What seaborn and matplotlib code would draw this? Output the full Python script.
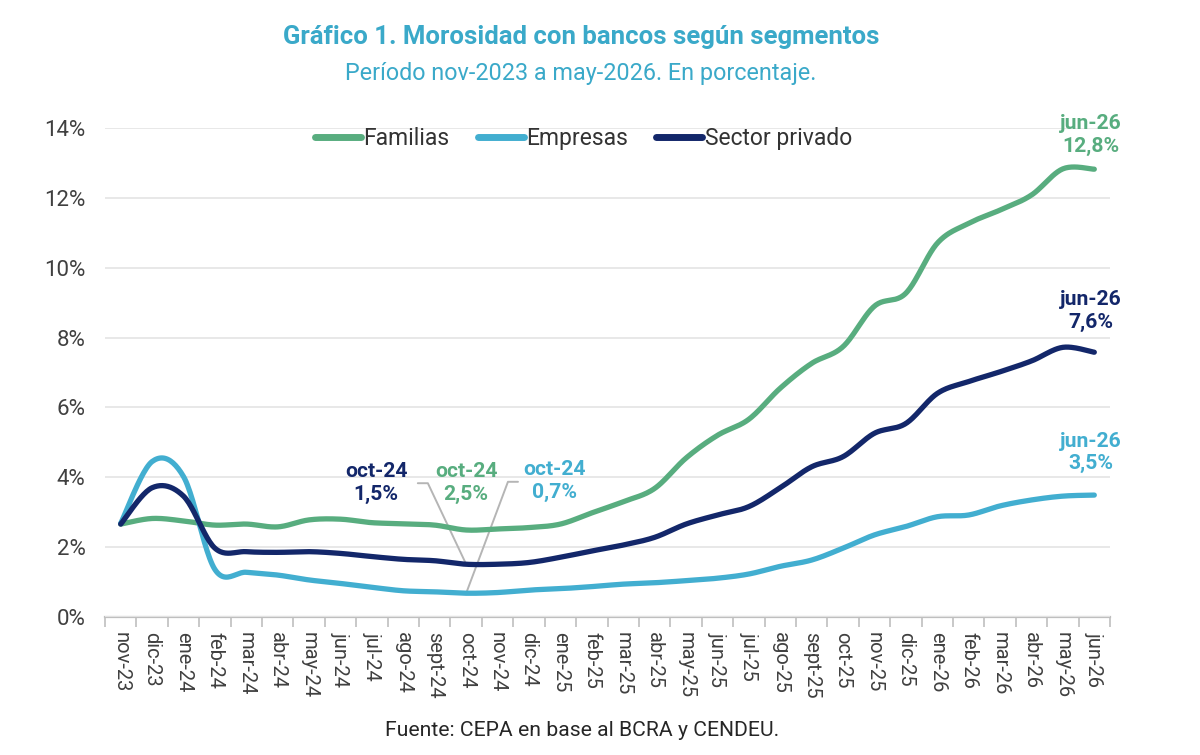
import numpy as np
import pandas as pd
import matplotlib
matplotlib.use("Agg")
import matplotlib.pyplot as plt
import seaborn as sns
from matplotlib.lines import Line2D
from matplotlib.ticker import FixedLocator, PercentFormatter

# ---------------- data ----------------
months = ["nov-23", "dic-23", "ene-24", "feb-24", "mar-24", "abr-24", "may-24", "jun-24",
          "jul-24", "ago-24", "sept-24", "oct-24", "nov-24", "dic-24", "ene-25", "feb-25",
          "mar-25", "abr-25", "may-25", "jun-25", "jul-25", "ago-25", "sept-25", "oct-25",
          "nov-25", "dic-25", "ene-26", "feb-26", "mar-26", "abr-26", "may-26", "jun-26"]

familias = [2.66, 2.82, 2.75, 2.63, 2.66, 2.58, 2.78, 2.80, 2.70, 2.67, 2.63, 2.49,
            2.52, 2.56, 2.66, 2.98, 3.30, 3.68, 4.55, 5.20, 5.66, 6.55, 7.26, 7.74,
            8.90, 9.27, 10.70, 11.27, 11.65, 12.08, 12.83, 12.82]

empresas = [2.68, 4.45, 4.02, 1.36, 1.28, 1.20, 1.06, 0.96, 0.85, 0.75, 0.72, 0.68,
            0.70, 0.77, 0.81, 0.87, 0.94, 0.98, 1.04, 1.11, 1.23, 1.45, 1.63, 1.97,
            2.35, 2.59, 2.87, 2.92, 3.18, 3.35, 3.46, 3.49]

privado = [2.66, 3.70, 3.46, 1.97, 1.87, 1.85, 1.87, 1.82, 1.73, 1.65, 1.61, 1.51,
           1.51, 1.56, 1.71, 1.89, 2.06, 2.28, 2.66, 2.92, 3.16, 3.70, 4.30, 4.59,
           5.26, 5.54, 6.40, 6.74, 7.02, 7.33, 7.72, 7.58]

series_names = ["Familias", "Empresas", "Sector privado"]
yticks = [0, 2, 4, 6, 8, 10, 12, 14]

title = "Gráfico 1. Morosidad con bancos según segmentos"
subtitle = "Período nov-2023 a may-2026. En porcentaje."
source = "Fuente: CEPA en base al BCRA y CENDEU."

# ---------------- style ----------------
C_FAM = "#58ad7f"
C_EMP = "#42aed0"
C_PRI = "#13276a"
C_TITLE = "#3aa9c9"
palette = {"Familias": C_FAM, "Empresas": C_EMP, "Sector privado": C_PRI}

sns.set_theme(style="white")
plt.rcParams["font.family"] = ["Roboto", "DejaVu Sans"]


def smooth(vals, n=24):
    """Excel-like smoothed line (Catmull-Rom as cubic Bezier) through the data."""
    y = np.asarray(vals, float)
    x = np.arange(len(y), dtype=float)
    P = np.column_stack([x, y])
    out = []
    t = np.linspace(0, 1, n, endpoint=False)[:, None]
    for i in range(len(P) - 1):
        p0 = P[max(i - 1, 0)]
        p1 = P[i]
        p2 = P[i + 1]
        p3 = P[min(i + 2, len(P) - 1)]
        c1 = p1 + (p2 - p0) / 6.0
        c2 = p2 - (p3 - p1) / 6.0
        b = (1 - t) ** 3 * p1 + 3 * (1 - t) ** 2 * t * c1 + 3 * (1 - t) * t ** 2 * c2 + t ** 3 * p2
        out.append(b)
    out.append(P[-1:])
    return np.vstack(out)


frames = []
for name, vals in zip(series_names, [familias, empresas, privado]):
    s = smooth(vals)
    frames.append(pd.DataFrame({"x": s[:, 0], "y": s[:, 1], "serie": name}))
df = pd.concat(frames, ignore_index=True)

fig = plt.figure(figsize=(12, 7.55), dpi=100)
ax = fig.add_axes([0.0875, 0.1828, 0.8375, 0.6477])

sns.lineplot(data=df, x="x", y="y", hue="serie", palette=palette, sort=False,
             estimator=None, linewidth=3.8, legend=False, ax=ax,
             hue_order=["Familias", "Empresas", "Sector privado"])
for ln in ax.lines:
    ln.set_solid_capstyle("round")
    ln.set_solid_joinstyle("round")
ax.lines[2].set_zorder(3)

n = len(months)
ax.set_xlim(-0.5, n - 0.5)
ax.set_ylim(0, 14)
ax.set_xlabel("")
ax.set_ylabel("")

ax.set_xticks(range(n))
ax.set_xticklabels(months, rotation=270, fontsize=14.5, color="#404040")
ax.xaxis.set_minor_locator(FixedLocator(np.arange(-0.5, n, 1.0)))
ax.tick_params(axis="x", which="major", length=0, pad=11)
ax.tick_params(axis="x", which="minor", length=7, width=1.2, color="#bfbfbf",
               direction="out", bottom=True)

ax.set_yticks(yticks)
ax.yaxis.set_major_formatter(PercentFormatter(decimals=0))
ax.tick_params(axis="y", length=0, pad=14, labelsize=16, labelcolor="#404040")

ax.grid(axis="y", color="#e6e6e6", linewidth=1.3)
ax.set_axisbelow(True)
for sp in ["top", "right", "left"]:
    ax.spines[sp].set_visible(False)
ax.spines["bottom"].set_color("#bfbfbf")
ax.spines["bottom"].set_linewidth(1.6)
ax.spines["bottom"].set_zorder(0.5)

# legend
handles = [Line2D([0], [0], color=palette[nm], lw=5, solid_capstyle="round") for nm in series_names]
leg = ax.legend(handles, series_names, loc="center", bbox_to_anchor=(0.476, 0.978), ncol=3,
                frameon=False, fontsize=16.5, handlelength=2.0, handletextpad=0.1,
                columnspacing=1.25)
for txt in leg.get_texts():
    txt.set_color("#333333")

# annotations oct-24
i_oct = months.index("oct-24")
lab_kw = dict(ha="center", va="center", fontsize=15.2, fontweight="bold", linespacing=1.25)
ax.text(8.13, 3.84, f"oct-24\n{privado[i_oct]:.1f}%".replace(".", ","), color=C_PRI, **lab_kw)
ax.text(11.0, 3.84, f"oct-24\n{familias[i_oct]:.1f}%".replace(".", ","), color=C_FAM, **lab_kw)
ax.text(13.8, 3.89, "oct-24\n0,7%", color=C_EMP, **lab_kw)
ax.plot([9.46, 9.78, i_oct], [3.83, 3.83, privado[i_oct]], color="#b5b5b5", lw=1.4, zorder=1.5)
ax.plot([12.65, 12.33, i_oct], [3.87, 3.87, empresas[i_oct]], color="#b5b5b5", lw=1.4, zorder=1.5)

# annotations jun-26
i_jun = n - 1
ax.text(30.9, 13.8, f"jun-26\n{familias[i_jun]:.1f}%".replace(".", ","), color=C_FAM,
        clip_on=False, **lab_kw)
ax.text(30.9, 8.77, f"jun-26\n{privado[i_jun]:.1f}%".replace(".", ","), color=C_PRI,
        clip_on=False, **lab_kw)
ax.text(30.9, 4.71, f"jun-26\n{empresas[i_jun]:.1f}%".replace(".", ","), color=C_EMP,
        clip_on=False, **lab_kw)

# titles and source
fig.text(0.484, 0.951, title, ha="center", va="center", fontsize=18.5, fontweight="bold",
         color=C_TITLE)
fig.text(0.484, 0.903, subtitle, ha="center", va="center", fontsize=16.8, color=C_TITLE)
fig.text(0.485, 0.033, source, ha="center", va="center", fontsize=15.2, color="#262626")

fig.savefig("out.png", dpi=100)
